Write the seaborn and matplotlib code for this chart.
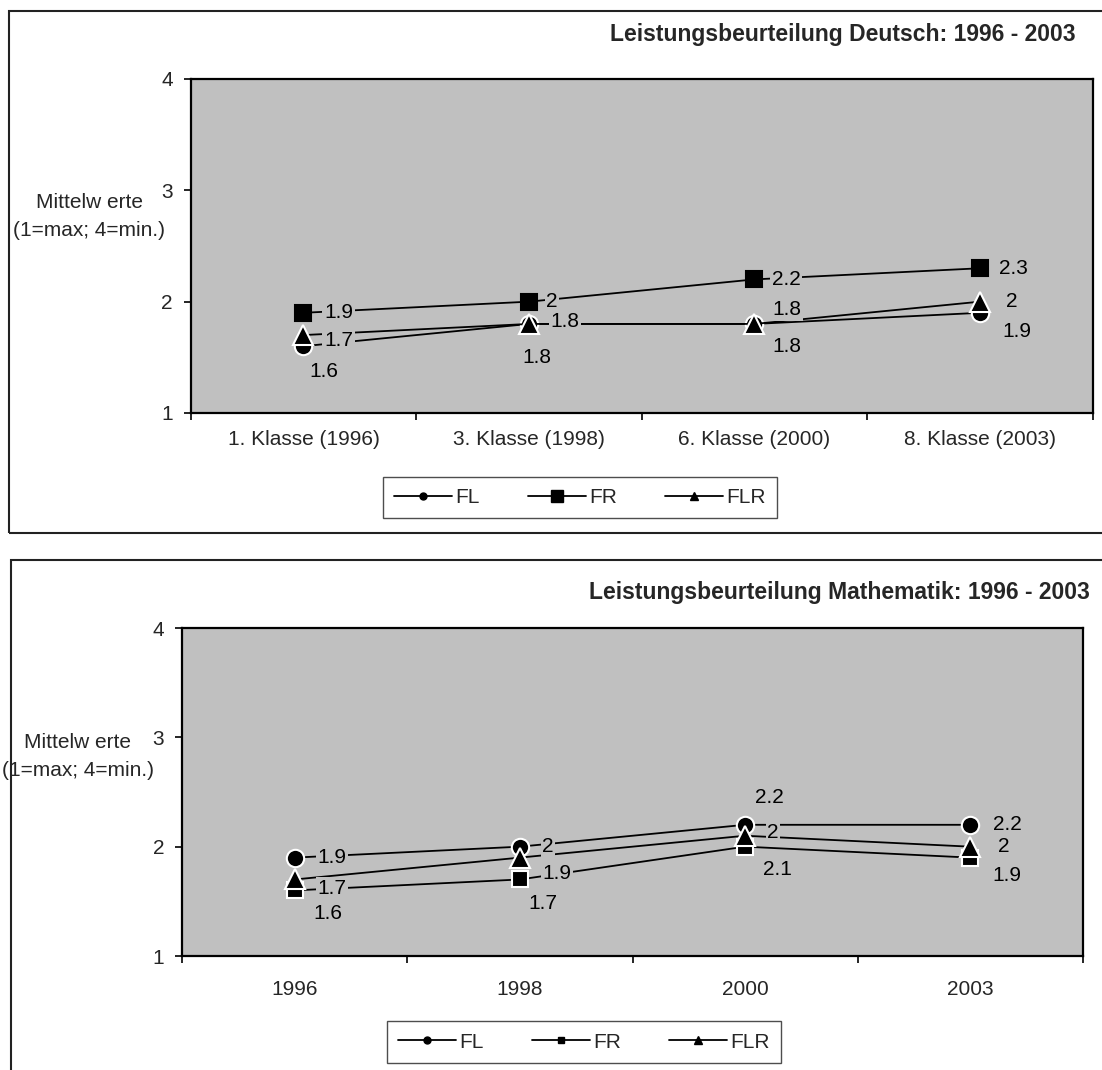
import matplotlib
matplotlib.use("Agg")
import matplotlib.pyplot as plt
from matplotlib.patches import Rectangle
from matplotlib.lines import Line2D
import seaborn as sns
import pandas as pd

# ---- data -------------------------------------------------------------
series = ["FL", "FR", "FLR"]

deutsch_categories = ["1. Klasse (1996)", "3. Klasse (1998)", "6. Klasse (2000)", "8. Klasse (2003)"]
deutsch_fl = [1.6, 1.8, 1.8, 1.9]
deutsch_fr = [1.9, 2.0, 2.2, 2.3]
deutsch_flr = [1.7, 1.8, 1.8, 2.0]

mathe_categories = ["1996", "1998", "2000", "2003"]
mathe_fl = [1.9, 2.0, 2.2, 2.2]
mathe_fr = [1.6, 1.7, 2.0, 1.9]
mathe_flr = [1.7, 1.9, 2.1, 2.0]

y_ticks = [1, 2, 3, 4]

title_deutsch = "Leistungsbeurteilung Deutsch: 1996 - 2003"
title_mathe = "Leistungsbeurteilung Mathematik: 1996 - 2003"
y_label_lines = ["Mittelw erte", "(1=max; 4=min.)"]

# ---- style ------------------------------------------------------------
sns.set_style("ticks")
plt.rcParams["font.family"] = ["Liberation Sans", "DejaVu Sans"]
FS = 15
PLOT_BG = "#c0c0c0"

W, H = 1102, 1070
fig = plt.figure(figsize=(W / 100, H / 100), dpi=100)
fig.patch.set_facecolor("white")


def fx(px):
    return px / W


def fy(py):
    return 1 - py / H


# data-label offsets in pixels (right, down) per series and point
deutsch_offsets = {
    "FL": [(20, 25), (8, 34), (32, 23), (37, 19)],
    "FR": [(35, 0), (23, 0), (32, 0), (33, 0)],
    "FLR": [(35, 5), (36, -2), (32, -14), (32, 0)],
}
mathe_offsets = {
    "FL": [(37, 0), (28, 0), (24, -27), (37, 0)],
    "FR": [(33, 23), (23, 24), (28, -14), (37, 18)],
    "FLR": [(37, 9), (37, 16), (32, 34), (34, 0)],
}

marker_styles = {
    "FL": dict(marker="o", markersize=12.5),
    "FR": dict(marker="s", markersize=11.5),
    "FLR": dict(marker="^", markersize=14.5),
}


def draw_panel(rect, categories, values, offsets, fr_edge, xlabel_pad,
               title, title_xy, ylabel_x, ylabel_ys, legend_xy,
               legend_square):
    ax = fig.add_axes(rect)
    ax.set_facecolor(PLOT_BG)
    pos = list(range(len(categories)))
    for i, name in enumerate(series):
        df = pd.DataFrame({"pos": pos, "val": values[name]})
        edge = fr_edge if name == "FR" else "white"
        sns.lineplot(data=df, x="pos", y="val", ax=ax, color="black",
                     linewidth=1.3, markeredgecolor=edge, markeredgewidth=1.5,
                     markerfacecolor="black", zorder=3 + i, legend=False,
                     **marker_styles[name])
    for name in series:
        for p, v, (dx, dy) in zip(pos, values[name], offsets[name]):
            ax.annotate(f"{v:g}", (p, v), xytext=(dx, -dy),
                        textcoords="offset pixels", ha="center", va="center",
                        fontsize=FS, color="black", zorder=10,
                        bbox=dict(boxstyle="square,pad=0.08", fc=PLOT_BG,
                                  ec="none"))
    ax.set_xlim(-0.5, len(categories) - 0.5)
    ax.set_ylim(1, 4)
    ax.set_yticks(y_ticks)
    ax.set_yticklabels([str(t) for t in y_ticks], fontsize=FS)
    ax.set_xticks(pos)
    ax.set_xticklabels(categories, fontsize=FS)
    ax.set_xticks([p - 0.5 for p in pos] + [len(pos) - 0.5], minor=True)
    ax.tick_params(axis="x", which="major", length=0, pad=xlabel_pad)
    ax.tick_params(axis="x", which="minor", length=5, width=1.2,
                   color="black", direction="out")
    ax.tick_params(axis="y", length=5, width=1.2, color="black",
                   direction="out", pad=8)
    ax.set_xlabel("")
    ax.set_ylabel("")
    for s in ax.spines.values():
        s.set_visible(True)
        s.set_color("black")
        s.set_linewidth(1.6)

    fig.text(fx(title_xy[0]), fy(title_xy[1]), title, ha="right", va="center",
             fontsize=16.5, fontweight="bold")
    for line, ly in zip(y_label_lines, ylabel_ys):
        fig.text(fx(ylabel_x), fy(ly), line, ha="center", va="center",
                 fontsize=FS)

    handles = [
        Line2D([], [], color="black", lw=1.3, marker="o", markersize=5),
        Line2D([], [], color="black", lw=1.3, marker="s",
               markersize=legend_square),
        Line2D([], [], color="black", lw=1.3, marker="^", markersize=6),
    ]
    leg = fig.legend(handles, series, loc="center",
                     bbox_to_anchor=(fx(legend_xy[0]), fy(legend_xy[1])),
                     ncol=3, fontsize=FS, frameon=True, fancybox=False,
                     handlelength=2.8, handletextpad=0.15, columnspacing=2.3,
                     borderpad=0.55)
    leg.get_frame().set_edgecolor("#222222")
    leg.get_frame().set_linewidth(1.0)
    leg.get_frame().set_facecolor("white")
    return ax


# outer frames of the two chart objects
fig.add_artist(Rectangle((fx(8.5), fy(533)), 1.05, fy(10.5) - fy(533),
                         transform=fig.transFigure, fill=False,
                         edgecolor="#222222", lw=1.5))
fig.add_artist(Rectangle((fx(10.5), -0.05), 1.05, fy(560.5) + 0.05,
                         transform=fig.transFigure, fill=False,
                         edgecolor="#222222", lw=1.5))

draw_panel([fx(190.7), fy(413), fx(1092.7) - fx(190.7), fy(79) - fy(413)],
           deutsch_categories,
           {"FL": deutsch_fl, "FR": deutsch_fr, "FLR": deutsch_flr},
           deutsch_offsets, fr_edge="black", xlabel_pad=12,
           title=title_deutsch, title_xy=(1076, 35), ylabel_x=89,
           ylabel_ys=(202, 230), legend_xy=(580, 497.5), legend_square=8)

draw_panel([fx(182.3), fy(956), fx(1082.7) - fx(182.3), fy(628) - fy(956)],
           mathe_categories,
           {"FL": mathe_fl, "FR": mathe_fr, "FLR": mathe_flr},
           mathe_offsets, fr_edge="white", xlabel_pad=17,
           title=title_mathe, title_xy=(1090, 592), ylabel_x=78,
           ylabel_ys=(742, 770), legend_xy=(584, 1042), legend_square=5)

fig.savefig("out.png", dpi=100, facecolor="white")
